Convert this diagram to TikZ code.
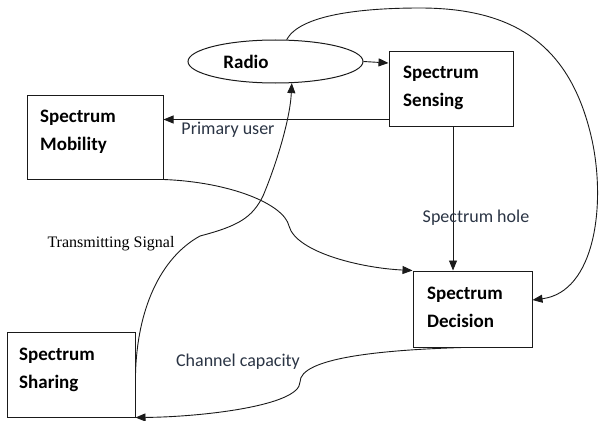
\documentclass[tikz,border=0pt]{standalone}
\usepackage{fontspec}
\setmainfont{Carlito}
\newfontfamily\serifface{Liberation Serif}
\usetikzlibrary{shapes.geometric,arrows.meta,calc}
\definecolor{ink}{HTML}{1A1A1A}
\definecolor{edgetext}{HTML}{2A3444}
\begin{document}
\begin{tikzpicture}[x=1pt,y=-1pt,
  box/.style={draw=ink,line width=1pt,rectangle,inner sep=0},
  title/.style={font=\fontsize{19}{28}\selectfont\bfseries,align=left,anchor=west,inner sep=0,text=black},
  conn/.style={draw=ink,line width=0.9pt,-{Triangle[length=10pt,width=8pt]}},
  lbl/.style={font=\fontsize{18}{20}\selectfont,text=edgetext,inner sep=0}]
\useasboundingbox (0,0) rectangle (601,420);

% blocks
\node[ellipse,draw=ink,line width=1pt,minimum width=175pt,minimum height=43pt,inner sep=0] (radio) at (275.5,61.5) {};
\node[title,anchor=center] (radiotext) at (246,62) {Radio};

\node[box,minimum width=124pt,minimum height=75pt] (sensing) at (451,88.5) {};
\node[title] (sensingtext) at (403,87.7) {Spectrum\\Sensing};

\node[box,minimum width=136pt,minimum height=84pt] (mobility) at (95,137) {};
\node[title] (mobilitytext) at (40,131.7) {Spectrum\\Mobility};

\node[box,minimum width=119pt,minimum height=76pt] (decision) at (472.5,309) {};
\node[title] (decisiontext) at (427,307.7) {Spectrum\\Decision};

\node[box,minimum width=128pt,minimum height=85pt] (sharing) at (71,374.5) {};
\node[title] (sharingtext) at (19,369.7) {Spectrum\\Sharing};

% connectors
\draw[conn] (radio.east) -- ([yshift=-1.5pt]sensing.north west |- radio.east);

\coordinate (pu) at ([yshift=7pt]sensing.south west);
\draw[conn] (pu) -- (pu -| mobility.east);
\node[lbl] (pulabel) at (228,130) {Primary user};

\coordinate (sh) at ([xshift=2pt]sensing.south);
\draw[conn] (sh) -- (sh |- decision.north);
\node[lbl] (shlabel) at (476,218) {Spectrum hole};

\draw[conn] (mobility.south east)
  .. controls (230,182) and (284,204) .. (289,226)
  .. controls (296,252) and (360,268) .. (decision.north west);

\draw[conn] (radio.63)
  .. controls (300,15) and (360,8) .. (420,8)
  .. controls (520,8) and (572,50) .. (592,140)
  .. controls (606,205) and (595,292) .. ([yshift=9pt]decision.east);

\draw[conn] (sharing.east)
  .. controls (137,310) and (160,258) .. (200,236)
  .. controls (238,226) and (252,218) .. (263,196)
  .. controls (276,165) and (290,120) .. (radio.307);
\node[font=\serifface\fontsize{16}{18}\selectfont,text=black,inner sep=0] (tslabel) at (111,244) {Transmitting Signal};

\draw[conn] ([xshift=-10pt]decision.south)
  .. controls (380,350) and (300,358) .. (300,382)
  .. controls (300,406) and (200,417) .. (sharing.south east);
\node[lbl] (cclabel) at (238,362) {Channel capacity};
\end{tikzpicture}
\end{document}
